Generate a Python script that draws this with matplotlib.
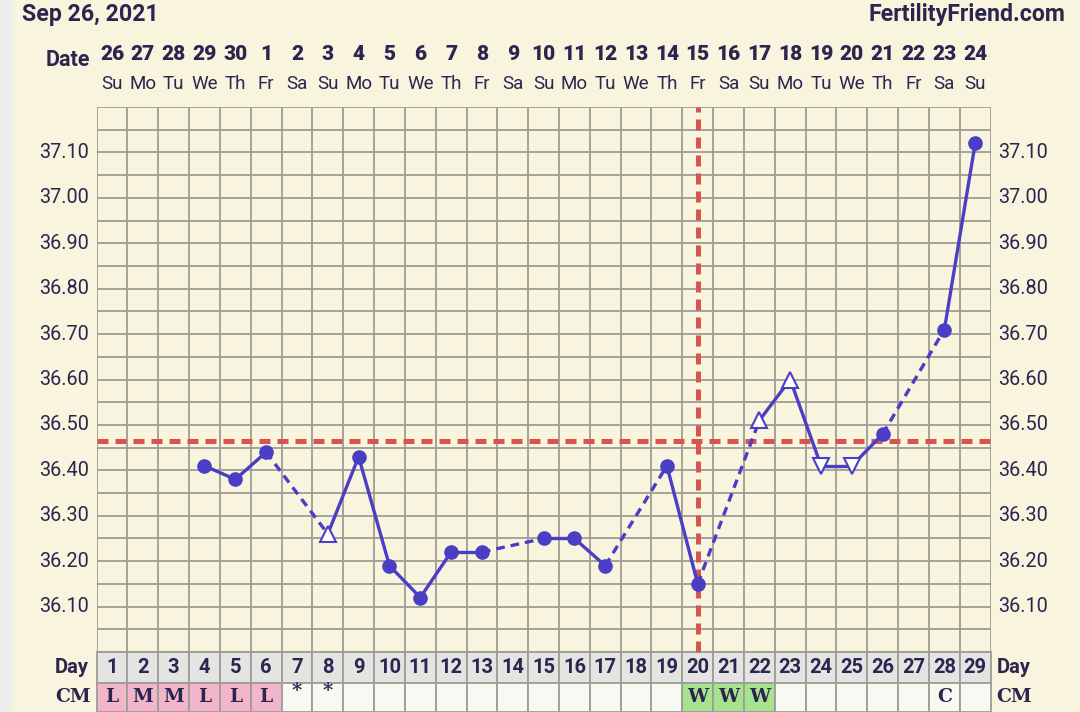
import numpy as np
import matplotlib.pyplot as plt
from matplotlib.patches import Rectangle
import matplotlib.transforms as mtrans

# chart data
days = list(range(1, 30))
dates = ['26', '27', '28', '29', '30', '1', '2', '3', '4', '5', '6', '7', '8', '9', '10',
         '11', '12', '13', '14', '15', '16', '17', '18', '19', '20', '21', '22', '23', '24']
weekdays = ['Su', 'Mo', 'Tu', 'We', 'Th', 'Fr', 'Sa'] * 4 + ['Su']
temp_days = [4, 5, 6, 8, 9, 10, 11, 12, 13, 15, 16, 17, 19, 20, 22, 23, 24, 25, 26, 28, 29]
temps = [36.41, 36.38, 36.44, 36.26, 36.43, 36.19, 36.12, 36.22, 36.22, 36.25, 36.25,
         36.19, 36.41, 36.15, 36.51, 36.60, 36.41, 36.41, 36.48, 36.71, 37.12]
# marker kind: 'o' normal, '^' open high, 'v' open low
kinds = ['o', 'o', 'o', '^', 'o', 'o', 'o', 'o', 'o', 'o', 'o',
         'o', 'o', 'o', '^', '^', 'v', 'v', 'o', 'o', 'o']
cm = ['L', 'M', 'M', 'L', 'L', 'L', '*', '*', '', '', '', '', '', '', '', '', '', '', '',
      'W', 'W', 'W', '', '', '', '', '', 'C', '']
coverline = 36.465
ovulation_day = 20
ytick_vals = [36.10, 36.20, 36.30, 36.40, 36.50, 36.60, 36.70, 36.80, 36.90, 37.00, 37.10]

bg = '#f9f4dd'
ink = '#2b2550'
blue = '#4a3ec6'
red = '#d6564f'
gridc = '#9e9d96'

W, H = 1080, 712
x0, x1, ytop, ybot = 96.6, 990.6, 107, 652
ah = ybot - ytop
colw = (x1 - x0) / 29


def px_x(px):
    # pixel column -> data x
    return 0.5 + (px - x0) / colw


def px_y(py):
    # pixel row -> axes fraction
    return (ybot - py) / ah


fig = plt.figure(figsize=(10.8, 7.12), dpi=100, facecolor=bg)
fig.patches.append(Rectangle((0, 0), 12 / W, 1, transform=fig.transFigure,
                             facecolor='#eeeeee', edgecolor='none', zorder=0))

ax = fig.add_axes([x0 / W, (H - ybot) / H, (x1 - x0) / W, ah / H])
ax.set_facecolor(bg)
ax.set_xlim(0.5, 29.5)
ax.set_ylim(36.0, 37.2)
for s in ax.spines.values():
    s.set_visible(False)
ax.set_xticks([])
ax.set_yticks([])

# grid
for xv in np.arange(0.5, 30, 1):
    ax.axvline(xv, color=gridc, lw=1.3, zorder=1)
for yv in np.arange(36.0, 37.21, 0.05):
    ax.axhline(yv, color=gridc, lw=1.3, zorder=1)

# coverline + ovulation line
ax.axhline(coverline, color=red, lw=3.6, ls=(0, (2.2, 1.4)), zorder=2)
ax.plot([ovulation_day, ovulation_day], [36.0, 37.2], color=red, lw=3.6,
        ls=(0, (2.2, 1.4)), zorder=2, clip_on=False)

# temperature line
for i in range(len(temp_days) - 1):
    solid = temp_days[i + 1] - temp_days[i] == 1
    ax.plot(temp_days[i:i + 2], temps[i:i + 2], color=blue, lw=2.4,
            ls='-' if solid else (0, (2.6, 1.8)), zorder=3, solid_capstyle='round')
for d, t, k in zip(temp_days, temps, kinds):
    if k == 'o':
        ax.plot(d, t, 'o', color=blue, ms=9.5, zorder=4)
    else:
        ax.plot(d, t, k, mfc='white', mec=blue, mew=1.5, ms=12, zorder=4)

trans = mtrans.blended_transform_factory(ax.transData, ax.transAxes)

# y labels both sides
for v in ytick_vals:
    ax.text(px_x(89), v, f'{v:.2f}', ha='right', va='center', fontsize=14.3,
            color=ink, family='Roboto', clip_on=False)
    ax.text(px_x(998), v, f'{v:.2f}', ha='left', va='center', fontsize=14.3,
            color=ink, family='Roboto', clip_on=False)

# bottom rows
day_lo, day_hi = px_y(683), px_y(652)
cm_lo, cm_hi = px_y(712), px_y(683)
for i, d in enumerate(days):
    ax.add_patch(Rectangle((d - 0.5, day_lo), 1, day_hi - day_lo, transform=trans,
                           facecolor='#e4e4e2', edgecolor=gridc, lw=1.3, clip_on=False, zorder=1))
    c = cm[i]
    fc = '#f9f9f3'
    if c in ('L', 'M'):
        fc = '#f2b6ca'
    elif c == 'W':
        fc = '#a6e38e'
    ax.add_patch(Rectangle((d - 0.5, cm_lo), 1, cm_hi - cm_lo, transform=trans,
                           facecolor=fc, edgecolor=gridc, lw=1.3, clip_on=False, zorder=1))
    ax.text(d, (day_lo + day_hi) / 2, str(d), ha='center', va='center', fontsize=14.5,
            fontweight='bold', color=ink, family='Roboto', transform=trans)
    if c:
        ax.text(d, (cm_lo + cm_hi) / 2 + (0.012 if c == '*' else 0), c, ha='center', va='center',
                fontsize=13.5 if c != '*' else 14, fontweight='bold', color=ink,
                family='DejaVu Serif', transform=trans)
ax.text(px_x(89), (day_lo + day_hi) / 2, 'Day', ha='right', va='center', fontsize=14.5,
        fontweight='bold', color=ink, family='Roboto', transform=trans)
ax.text(px_x(997), (day_lo + day_hi) / 2, 'Day', ha='left', va='center', fontsize=14.5,
        fontweight='bold', color=ink, family='Roboto', transform=trans)
ax.text(px_x(91), (cm_lo + cm_hi) / 2, 'CM', ha='right', va='center', fontsize=13.5,
        fontweight='bold', color=ink, family='DejaVu Serif', transform=trans)
ax.text(px_x(996), (cm_lo + cm_hi) / 2, 'CM', ha='left', va='center', fontsize=13.5,
        fontweight='bold', color=ink, family='DejaVu Serif', transform=trans)

# header rows
for d, dt, wd in zip(days, dates, weekdays):
    ax.text(d, px_y(55), dt, ha='center', va='center', fontsize=15, fontweight='heavy',
            color=ink, family='Roboto', transform=trans)
    ax.text(d, px_y(84), wd, ha='center', va='center', fontsize=13.5,
            color=ink, family='Roboto', transform=trans)
ax.text(px_x(90), px_y(60), 'Date', ha='right', va='center', fontsize=15.5,
        fontweight='bold', color=ink, family='Roboto', transform=trans)

fig.text(22 / W, 1 - 15 / H, 'Sep 26, 2021', ha='left', va='center', fontsize=16.7,
         fontweight='bold', color=ink, family='Roboto')
fig.text(1065 / W, 1 - 15 / H, 'FertilityFriend.com', ha='right', va='center', fontsize=16.7,
         fontweight='bold', color=ink, family='Roboto')

fig.savefig('out.png', dpi=100, facecolor=bg)
